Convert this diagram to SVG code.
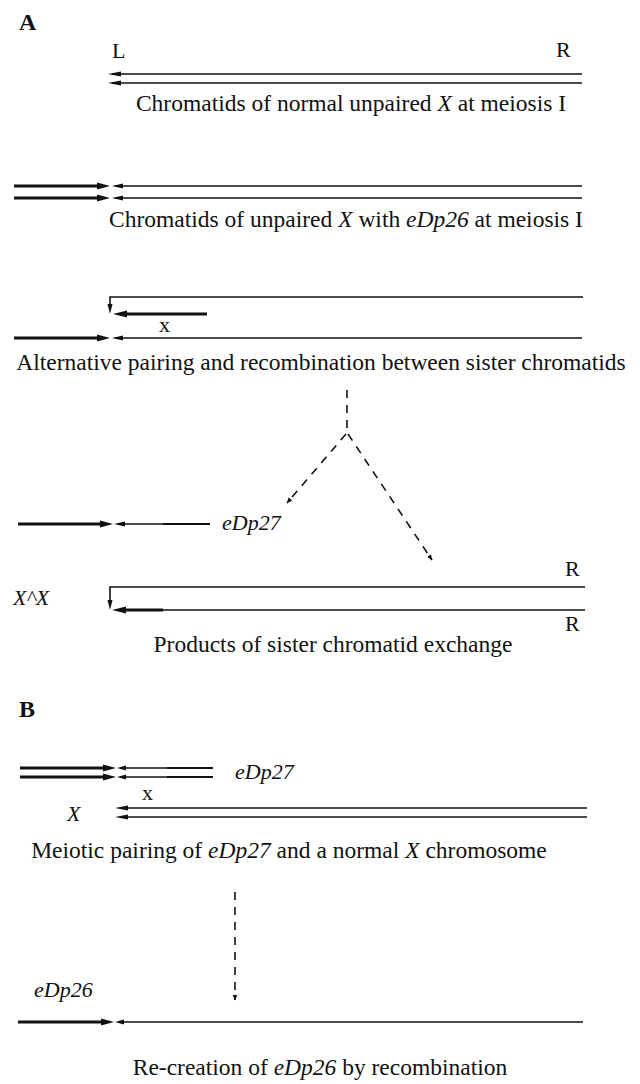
<svg xmlns="http://www.w3.org/2000/svg" width="640" height="1084" viewBox="0 0 640 1084">
<style>
text{font-family:"Liberation Serif","Times New Roman",serif;fill:#111;}
.cap{font-size:23.5px;text-anchor:middle;}
.lbl{font-size:22px;}
.it{font-style:italic;}
.hd{font-size:24px;font-weight:bold;}
.thin{stroke:#111;stroke-width:1.6;fill:none;}
.thick{stroke:#111;stroke-width:3;fill:none;}
.mid{stroke:#111;stroke-width:2.2;fill:none;}
.ah{fill:#111;}
.dash{stroke:#111;stroke-width:1.6;fill:none;stroke-dasharray:8 7;}
</style>
<defs>
<marker id="dh" viewBox="0 0 10 10" refX="9" refY="5" markerWidth="6" markerHeight="8" markerUnits="userSpaceOnUse" orient="auto">
<path d="M0,1 L10,5 L0,9 z" fill="#111"/>
</marker>
</defs>

<text class="hd" x="19" y="30">A</text>

<g id="s1">
<text class="lbl" x="112" y="58">L</text>
<text class="lbl" x="556" y="57">R</text>
<line class="thin" x1="112" y1="74" x2="582" y2="74"/>
<line class="thin" x1="112" y1="83" x2="582" y2="83"/>
<polygon class="ah" points="108,74 121,71.5 121,76.5"/>
<polygon class="ah" points="108,83 121,80.5 121,85.5"/>
<text class="cap" x="351" y="111">Chromatids of normal unpaired <tspan class="it">X</tspan> at meiosis I</text>
</g>

<g id="s2">
<line class="thick" x1="14" y1="186" x2="100" y2="186"/>
<line class="thick" x1="14" y1="198" x2="100" y2="198"/>
<polygon class="ah" points="110,186 97,182.5 97,189.5"/>
<polygon class="ah" points="110,198 97,194.5 97,201.5"/>
<polygon class="ah" points="112,186 123,183.5 123,188.5"/>
<polygon class="ah" points="112,198 123,195.5 123,200.5"/>
<line class="thin" x1="115" y1="186" x2="582" y2="186"/>
<line class="thin" x1="115" y1="198" x2="582" y2="198"/>
<text class="cap" x="346" y="227">Chromatids of unpaired <tspan class="it">X</tspan> with <tspan class="it">eDp26</tspan> at meiosis I</text>
</g>

<g id="s3">
<path class="thin" d="M583,297 H110 V307"/>
<polygon class="ah" points="110,314 107.5,304 112.5,304"/>
<line class="thick" x1="120" y1="314" x2="207" y2="314"/>
<polygon class="ah" points="113,314 127,310.5 127,317.5"/>
<text class="lbl" x="159" y="332">x</text>
<line class="thick" x1="14" y1="338" x2="100" y2="338"/>
<polygon class="ah" points="110,338 97,334.5 97,341.5"/>
<polygon class="ah" points="112,338 123,335.5 123,340.5"/>
<line class="thin" x1="115" y1="338" x2="582" y2="338"/>
<text class="cap" x="321" y="370">Alternative pairing and recombination between sister chromatids</text>
</g>

<g id="connectors">
<line class="dash" x1="347" y1="390" x2="347" y2="428"/>
<line class="dash" x1="346" y1="434" x2="287" y2="503" marker-end="url(#dh)"/>
<line class="dash" x1="348" y1="434" x2="432" y2="560" marker-end="url(#dh)"/>
<line class="dash" x1="235" y1="892" x2="235" y2="1000" marker-end="url(#dh)"/>
</g>

<g id="edp27">
<line class="thick" x1="18" y1="524" x2="102" y2="524"/>
<polygon class="ah" points="113,524 100,520.5 100,527.5"/>
<polygon class="ah" points="114,524 125,521.5 125,526.5"/>
<line class="thin" x1="118" y1="524" x2="163" y2="524"/>
<line class="mid" x1="163" y1="524" x2="210" y2="524"/>
<text class="lbl it" x="222" y="530">eDp27</text>
</g>

<g id="xx">
<text class="lbl it" x="13" y="605">X^X</text>
<path class="thin" d="M585,587 H110 V603"/>
<polygon class="ah" points="110,610 107.5,600 112.5,600"/>
<line class="thick" x1="120" y1="610" x2="163" y2="610"/>
<line class="thin" x1="163" y1="610" x2="585" y2="610"/>
<polygon class="ah" points="112,610 126,606.5 126,613.5"/>
<text class="lbl" x="565" y="576">R</text>
<text class="lbl" x="565" y="631">R</text>
<text class="cap" x="333" y="652">Products of sister chromatid exchange</text>
</g>

<text class="hd" x="19" y="717">B</text>

<g id="b1">
<line class="thick" x1="20" y1="768" x2="106" y2="768"/>
<line class="thick" x1="20" y1="777" x2="106" y2="777"/>
<polygon class="ah" points="116,768 103,764.5 103,771.5"/>
<polygon class="ah" points="116,777 103,773.5 103,780.5"/>
<polygon class="ah" points="117,768 126,765.5 126,770.5"/>
<polygon class="ah" points="117,777 126,774.5 126,779.5"/>
<line class="thin" x1="120" y1="768" x2="167" y2="768"/>
<line class="thin" x1="120" y1="777" x2="167" y2="777"/>
<line class="mid" x1="167" y1="768" x2="213" y2="768"/>
<line class="mid" x1="167" y1="777" x2="213" y2="777"/>
<text class="lbl it" x="235" y="779">eDp27</text>
<text class="lbl" x="142" y="800">x</text>
<text class="lbl it" x="67" y="821">X</text>
<line class="thin" x1="120" y1="808" x2="587" y2="808"/>
<line class="thin" x1="120" y1="817" x2="587" y2="817"/>
<polygon class="ah" points="115,808 128,805.5 128,810.5"/>
<polygon class="ah" points="115,817 128,814.5 128,819.5"/>
<text class="cap" x="289" y="858">Meiotic pairing of <tspan class="it">eDp27</tspan> and a normal <tspan class="it">X</tspan> chromosome</text>
</g>

<g id="b2">
<text class="lbl it" x="34" y="997">eDp26</text>
<line class="thick" x1="18" y1="1022" x2="104" y2="1022"/>
<polygon class="ah" points="114,1022 101,1018.5 101,1025.5"/>
<polygon class="ah" points="115,1022 124,1019.5 124,1024.5"/>
<line class="thin" x1="118" y1="1022" x2="583" y2="1022"/>
<text class="cap" x="320" y="1075">Re-creation of <tspan class="it">eDp26</tspan> by recombination</text>
</g>
</svg>
